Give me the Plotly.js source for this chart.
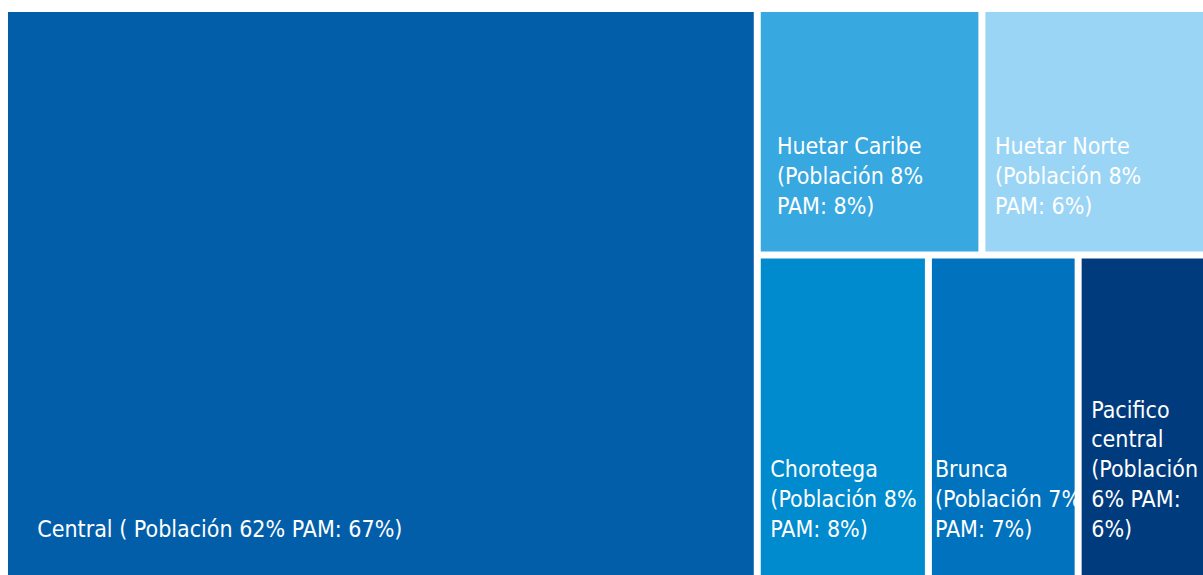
<!DOCTYPE html>
<html>
<head>
<meta charset="utf-8">
<script src="https://cdn.plot.ly/plotly-3.0.1.min.js"></script>
<style>
  html, body { margin: 0; padding: 0; background: #fff; }
  #chart { width: 1203px; height: 575px; }
</style>
</head>
<body>
<div id="chart"></div>
<script>
"use strict";
// regiones, grupo donde se dibujan y peso (población %)
const regions = ["Central", "Huetar Caribe", "Huetar Norte", "Chorotega", "Brunca", "Pacifico central"];
const groups = ["", "arriba", "arriba", "abajo", "abajo", "abajo"];
const poblacion = [62, 8, 8, 8, 7, 6];
const pam = [67, 8, 6, 8, 7, 6];
const labelsText = [
  "Central ( Población 62% PAM: 67%)",
  "Huetar Caribe<br>(Población 8%<br>PAM: 8%)",
  "Huetar Norte<br>(Población 8%<br>PAM: 6%)",
  "Chorotega<br>(Población 8%<br>PAM: 8%)",
  "Brunca<br>(Población 7%<br>PAM: 7%)",
  "Pacifico<br>central<br>(Población<br>6% PAM:<br>6%)"
];
const indent = [4, 2, 1, 1, 0, 1];
const colors = ["#035EAA", "#38A8E0", "#9AD5F5", "#008BCE", "#0072BE", "#003B7E"];

// grupos intermedios para que el mosaico quede como en el original
const groupIds = ["resto", "arriba", "abajo"];
const groupParents = ["", "resto", "resto"];

function pad(txt, n) {
  const sp = "&nbsp;".repeat(n);
  return txt.split("<br>").map(l => sp + l).join("<br>") + "<br> ";
}

const trace = {
  type: "treemap",
  ids: regions.concat(groupIds),
  labels: regions.concat(groupIds),
  parents: groups.concat(groupParents),
  values: poblacion.concat([0, 0, 0]),
  text: labelsText.map((t, i) => pad(t, indent[i])).concat(["", "", ""]),
  textinfo: "text",
  textposition: "bottom left",
  textfont: {family: "DejaVu Sans Condensed, Liberation Sans Narrow, sans-serif", size: 23, color: "#ffffff"},
  marker: {
    colors: colors.concat(["#ffffff", "#ffffff", "#ffffff"]),
    line: {width: 0},
    pad: {t: 0, l: 0, r: 0, b: 0}
  },
  tiling: {packing: "slice-dice", pad: 7},
  pathbar: {visible: false},
  sort: false,
  domain: {x: [8 / 1203, 1], y: [0, 1 - 12 / 575]},
  hoverinfo: "skip"
};

const layout = {
  width: 1203,
  height: 575,
  margin: {l: 0, r: 0, t: 0, b: 0},
  paper_bgcolor: "#ffffff",
  uniformtext: {mode: "show", minsize: 23},
  showlegend: false
};

Plotly.newPlot("chart", [trace], layout, {displayModeBar: false, staticPlot: true});
</script>
</body>
</html>
